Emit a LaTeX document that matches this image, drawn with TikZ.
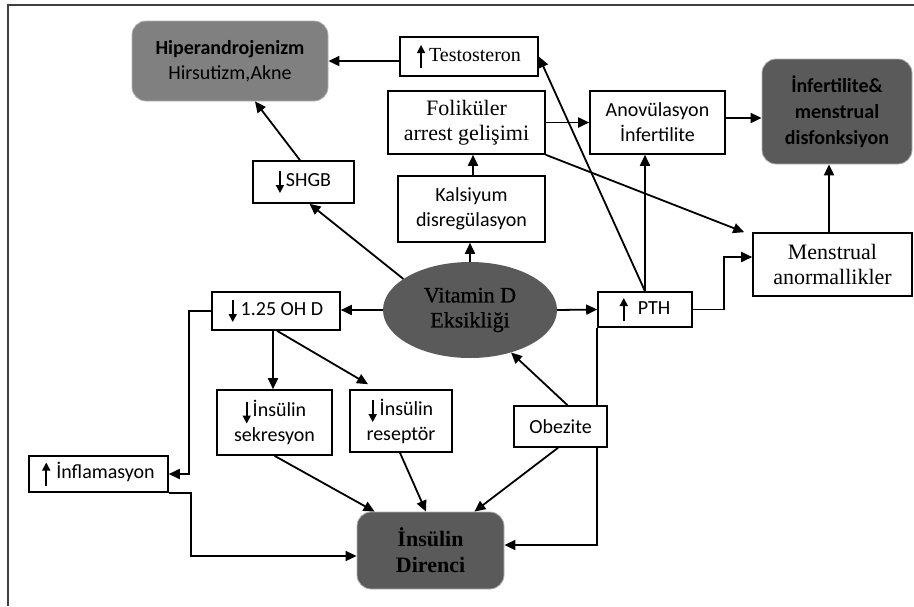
\documentclass[tikz,border=0pt]{standalone}
\usepackage{fontspec}
\setmainfont{Liberation Serif}
\newfontfamily\carl{Carlito}
\newfontfamily\vitfont[FakeBold=0.8]{Liberation Serif}
\usetikzlibrary{arrows.meta,shapes.geometric,backgrounds}
\definecolor{midgray}{HTML}{808080}
\definecolor{dgfill}{HTML}{5A5A5A}
\newcommand{\uparr}{\tikz[baseline=0pt,x=1pt,y=1pt]\draw[black,line width=1.6pt,-{Triangle[length=8pt,width=8pt]}] (0,-7) -- (0,16);}
\newcommand{\downarr}{\tikz[baseline=0pt,x=1pt,y=1pt]\draw[black,line width=1.6pt,-{Triangle[length=8pt,width=8pt]}] (0,15) -- (0,-7);}
\begin{document}
\begin{tikzpicture}[x=1pt,y=-1pt,
  box/.style={draw,line width=1.6pt,rectangle,inner sep=0pt,align=center,fill=white},
  sans/.style={font=\carl\fontsize{20}{25}\selectfont},
  serifs/.style={font=\fontsize{22}{25}\selectfont},
  serift/.style={font=\fontsize{20}{25}\selectfont},
  rbox/.style={rectangle,rounded corners=14pt,inner sep=0pt,align=center,draw=gray!60,line width=0.8pt},
  arr/.style={line width=1.8pt,-{Triangle[length=11pt,width=10pt]}}
]
\useasboundingbox (0,0) rectangle (914,606);
\draw[line width=1.5pt,black!75] (8,606) -- (8,5) -- (914,5);

% nodes
\node[rbox,fill=midgray,minimum width=196pt,minimum height=80pt,sans] (hip) at (230,61)
  {{\bfseries Hiperandrojenizm}\\Hirsutizm,Akne};
\node[box,minimum width=138pt,minimum height=39pt,serift] (tes) at (469,56.5) {\uparr\hspace{4pt}Testosteron};
\node[box,minimum width=157pt,minimum height=63pt,serifs] (fol) at (466.5,122.5) {Foliküler\\arrest gelişimi};
\node[box,minimum width=135pt,minimum height=63pt,sans] (ano) at (657.5,122.5) {Anovülasyon\\İnfertilite};
\node[rbox,fill=dgfill,minimum width=150pt,minimum height=105pt,font=\carl\bfseries\fontsize{20}{26}\selectfont] (inf) at (837,111.5)
  {İnfertilite\&\\menstrual\\disfonksiyon};
\node[box,minimum width=101pt,minimum height=42pt,sans] (shgb) at (303.5,182) {\downarr\hspace{2pt}SHGB};
\node[box,minimum width=147pt,minimum height=66pt,sans] (kal) at (471.5,209) {Kalsiyum\\disregülasyon};
\node[box,minimum width=159pt,minimum height=63pt,serifs] (men) at (832.5,264.5) {Menstrual\\anormallikler};
\node[ellipse,fill=dgfill,minimum width=174pt,minimum height=96pt,inner sep=0pt,align=center,
  text=black,font=\vitfont\fontsize{22}{25}\selectfont] (vit) at (470,310) {Vitamin D\\Eksikliği};
\node[box,minimum width=128pt,minimum height=38pt,sans] (ohd) at (276,311) {\downarr\hspace{4pt}1.25 OH D};
\node[box,minimum width=94pt,minimum height=35pt,sans] (pth) at (645,309.5) {\uparr\hspace{10pt}PTH};
\node[box,minimum width=115pt,minimum height=65pt,sans] (sek) at (274.5,422.5) {\downarr\hspace{2pt}İnsülin\\sekresyon};
\node[box,minimum width=102pt,minimum height=62pt,sans] (res) at (401,421) {\downarr\hspace{3pt}İnsülin\\reseptör};
\node[box,minimum width=139pt,minimum height=36pt,sans] (infl) at (98.5,474) {\uparr\hspace{6pt}İnflamasyon};
\node[box,minimum width=93pt,minimum height=41pt,sans] (obe) at (560.5,426.5) {Obezite};
\node[rbox,fill=dgfill,minimum width=147pt,minimum height=77pt,font=\bfseries\fontsize{22}{26}\selectfont] (dir) at (430.5,550.5)
  {İnsülin\\Direnci};

% connectors
\begin{pgfonlayer}{background}
\draw[arr] (pth.south west) |- ([yshift=5.5pt]dir.east);
\end{pgfonlayer}
\draw[arr] (tes.west |- hip.east) -- (hip.east);
\draw[arr] ([xshift=-3.5pt]shgb.north) -- ([xshift=25pt]hip.south);
\draw[arr] (vit.155) -- ([xshift=6pt]shgb.south);
\draw[arr] (vit.north) -- (vit.north |- kal.south);
\draw[arr] ([xshift=1.5pt]kal.north) -- ([xshift=1.5pt]kal.north |- fol.south);
\draw[arr] (fol.east) -- (ano.west);
\draw[arr] ([yshift=4.5pt]ano.east) -- ([yshift=4.5pt]ano.east -| inf.west);
\draw[arr] (fol.south east) -- ([xshift=-8pt]men.north west);
\draw[arr] (pth.north) -- (tes.east);
\draw[arr] (pth.north) -- (pth.north |- ano.south);
\draw[arr] (vit.east) -- (pth.west);
\draw[arr] (pth.east) -- ([xshift=31pt]pth.east) |- ([yshift=7.5pt]men.west);
\draw[arr] ([xshift=-3.5pt]men.north) -- ([xshift=-3.5pt]men.north |- inf.south);
\draw[arr] (vit.west) -- (vit.west -| ohd.east);
\draw[arr] ([xshift=-3pt]ohd.south) -- ([xshift=-3pt]ohd.south |- sek.north);
\draw[arr] ([xshift=1pt]ohd.south) -- ([xshift=-33pt,yshift=5pt]res.north);
\draw[arr] (ohd.west) -- ([xshift=-22pt]ohd.west) |- (infl.east);
\draw[arr] (infl.south east) -- ([xshift=22pt]infl.south east) |- ([yshift=-5.5pt]dir.west);
\draw[arr] (sek.south) -- ([xshift=18pt]dir.north west);
\draw[arr] ([xshift=-1pt]res.south) -- ([xshift=-4.5pt]dir.north);
\draw[arr] ([xshift=-2.5pt]obe.south) -- ([xshift=-30pt]dir.north east);
\draw[arr] ([xshift=7pt]obe.north) -- (vit.-46);
\end{tikzpicture}
\end{document}
